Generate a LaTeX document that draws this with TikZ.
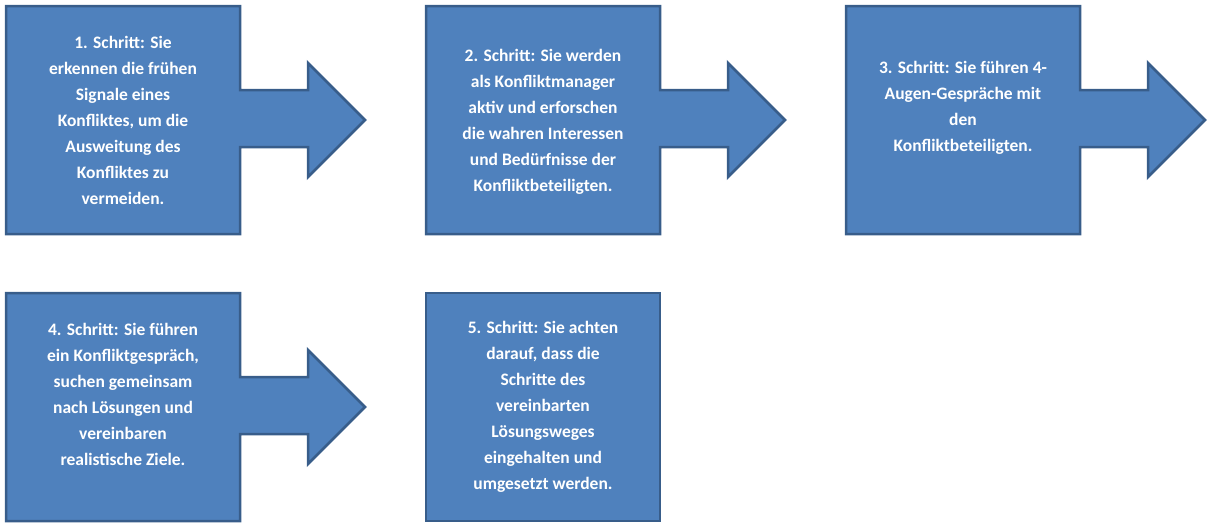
\documentclass[tikz,border=0pt]{standalone}
\usepackage{fontspec}
\setmainfont{Carlito}
\usetikzlibrary{positioning}
\definecolor{stepfill}{HTML}{4F81BD}
\definecolor{stepline}{HTML}{385D8A}
\tikzset{
  stepshape/.style={
      fill=stepfill,
      draw=stepline,
      line width=2.5pt,
      line join=miter
  },
  steptext/.style={
      text=white,
      align=center,
      font=\bfseries\fontsize{17.5}{26}\selectfont
  }
}
% box with block arrow, #1,#2 = upper left corner
\newcommand{\arrowbox}[2]{
  \path[stepshape] (#1,#2) -- ++(234,0) -- ++(0,84) -- ++(68,0) -- ++(0,-27)
    -- ++(57,57) -- ++(-57,57) -- ++(0,-30) -- ++(-68,0) -- ++(0,87)
    -- ++(-234,0) -- cycle;
}
\newcommand{\plainbox}[2]{
  \path[stepshape] (#1,#2) rectangle ++(234,228);
}
\begin{document}
\begin{tikzpicture}[x=1pt,y=-1pt]
    \useasboundingbox (0,0) rectangle (1226,530);
    \arrowbox{6}{6}
    \arrowbox{426}{6}
    \arrowbox{846}{6}
    \arrowbox{6}{293}
    \plainbox{426}{293}
    \node[steptext] (step1) at (123,120) {1. Schritt: Sie\\erkennen die frühen\\Signale eines\\Konfliktes, um die\\Ausweitung des\\Konfliktes zu\\vermeiden.};
    \node[steptext] (step2) at (543,122) {2. Schritt: Sie werden\\als Konfliktmanager\\aktiv und erforschen\\die wahren Interessen\\und Bedürfnisse der\\Konfliktbeteiligten.};
    \node[steptext] (step3) at (963,108) {3. Schritt: Sie führen 4-\\Augen-Gespräche mit\\den\\Konfliktbeteiligten.};
    \node[steptext] (step4) at (123,394) {4. Schritt: Sie führen\\ein Konfliktgespräch,\\suchen gemeinsam\\nach Lösungen und\\vereinbaren\\realistische Ziele.};
    \node[steptext] (step5) at (543,407) {5. Schritt: Sie achten\\darauf, dass die\\Schritte des\\vereinbarten\\Lösungsweges\\eingehalten und\\umgesetzt werden.};
\end{tikzpicture}
\end{document}
